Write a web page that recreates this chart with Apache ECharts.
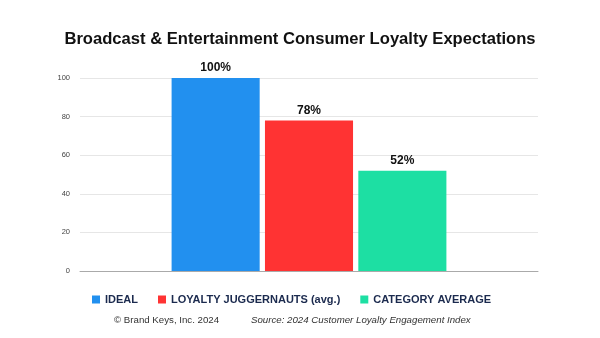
<!DOCTYPE html>
<html><head><meta charset="utf-8">
<script src="https://cdn.jsdelivr.net/npm/echarts@6/dist/echarts.min.js"></script>
<style>html,body{margin:0;padding:0;background:#fff}#c{width:600px;height:338px}</style>
</head><body><div id="c"></div>
<script>
const categories = [''];
const seriesNames = ['IDEAL', 'LOYALTY JUGGERNAUTS (avg.)', 'CATEGORY AVERAGE'];
const seriesValues = [100, 78, 52];
const seriesColors = ['#2290ef', '#ff3333', '#1ddfa3'];
const yTicks = [0, 20, 40, 60, 80, 100];

const chart = echarts.init(document.getElementById('c'));
chart.setOption({
  animation: false,
  title: {
    text: 'Broadcast & Entertainment Consumer Loyalty Expectations',
    left: 'center', top: 26,
    textStyle: {fontFamily: 'Liberation Sans', fontSize: 16.6, fontWeight: 'bold', color: '#111'}
  },
  grid: {left: 80, right: 62, top: 78, bottom: 67},
  legend: {
    left: 87, top: 289, itemWidth: 8, itemHeight: 8, itemGap: 20,
    icon: 'rect',
    textStyle: {fontFamily: 'Liberation Sans', fontSize: 11, fontWeight: 'bold', color: '#1b2a4e'},
    data: seriesNames
  },
  xAxis: {
    type: 'category', data: categories,
    axisLine: {lineStyle: {color: '#aaa'}}, axisTick: {show: false}, axisLabel: {show: false}
  },
  yAxis: {
    type: 'value', min: yTicks[0], max: yTicks[yTicks.length - 1], interval: 20,
    axisLabel: {fontFamily: 'Liberation Sans', fontSize: 7.5, color: '#444', margin: 10},
    splitLine: {lineStyle: {color: '#e6e6e6'}}
  },
  graphic: [
    {type: 'text', left: 114, top: 315, style: {text: '© Brand Keys, Inc. 2024', font: '9.7px "Liberation Sans"', fill: '#333'}},
    {type: 'text', left: 251, top: 315, style: {text: 'Source: 2024 Customer Loyalty Engagement Index', font: 'italic 9.7px "Liberation Sans"', fill: '#333'}}
  ],
  series: seriesNames.map((n, i) => ({
    name: n, type: 'bar', data: [seriesValues[i]],
    itemStyle: {color: seriesColors[i]},
    barGap: '6%', barCategoryGap: '40%',
    label: {show: true, position: 'top', formatter: '{c}%', fontFamily: 'Liberation Sans', fontSize: 12, fontWeight: 'bold', color: '#111', distance: 4}
  }))
});
</script></body></html>
